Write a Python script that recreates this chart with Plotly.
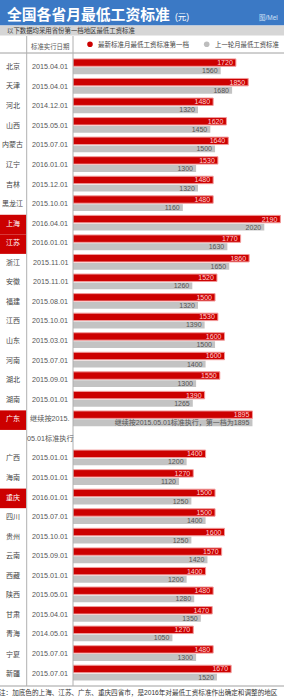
import plotly.graph_objects as go

# ---------------- data ----------------
provinces = ["北京", "天津", "河北", "山西", "内蒙古", "辽宁", "吉林", "黑龙江", "上海", "江苏",
             "浙江", "安徽", "福建", "江西", "山东", "河南", "湖北", "湖南", "广东", "广西",
             "海南", "重庆", "四川", "贵州", "云南", "西藏", "陕西", "甘肃", "青海", "宁夏", "新疆"]
dates = ["2015.04.01", "2015.04.01", "2014.12.01", "2015.05.01", "2015.07.01", "2016.01.01",
         "2015.12.01", "2015.10.01", "2016.04.01", "2016.01.01", "2015.11.01", "2015.11.01",
         "2015.08.01", "2015.10.01", "2015.03.01", "2015.07.01", "2015.09.01", "2015.01.01",
         "继续按2015.<br>05.01标准执行", "2015.01.01", "2015.01.01", "2016.01.01", "2015.07.01",
         "2015.10.01", "2015.09.01", "2015.01.01", "2015.05.01", "2015.04.01", "2014.05.01",
         "2015.07.01", "2015.07.01"]
new_std = [1720, 1850, 1480, 1620, 1640, 1530, 1480, 1480, 2190, 1770, 1860, 1520, 1500, 1530,
           1600, 1600, 1550, 1390, 1895, 1400, 1270, 1500, 1500, 1600, 1570, 1400, 1480, 1470,
           1270, 1480, 1670]
old_std = [1560, 1680, 1320, 1450, 1500, 1300, 1320, 1160, 2020, 1630, 1650, 1260, 1320, 1390,
           1500, 1400, 1300, 1265, 1895, 1200, 1120, 1250, 1400, 1250, 1420, 1200, 1280, 1350,
           1050, 1300, 1520]
highlighted = ["上海", "江苏", "广东", "重庆"]
notes = {"广东": "继续按2015.05.01标准执行，第一档为1895"}

title = "全国各省月最低工资标准"
unit = "(元)"
credit = "图/Mel"
subtitle = "以下数据均采用省份第一档地区最低工资标准"
date_header = "标准实行日期"
legend_new = "最新标准月最低工资标准第一档"
legend_old = "上一轮月最低工资标准"
footnote = "注：加底色的上海、江苏、广东、重庆四省市，是2016年对最低工资标准作出确定和调整的地区"

# ---------------- layout geometry ----------------
W, H = 284, 700
L, T, B = 73, 53, 14
ROW = 19.56
FIRST = 66.7
PX_PER_YUAN = 0.0947

FONT = "Liberation Sans, Arial, Noto Sans CJK SC, sans-serif"
RED = "#cc0000"
GRAY = "#c3c3c3"

# row positions (multi-line dates take extra rows)
pos = []
k = 0
for d in dates:
    pos.append(k)
    k += len(d.split("<br>"))

r0 = -(FIRST - T) / ROW
r1 = r0 + (H - T - B) / ROW


def px(p):
    return (p - L) / (W - L)


def py(p):
    return (H - B - p) / (H - T - B)


old_labels = [notes.get(p, str(v)) for p, v in zip(provinces, old_std)]

fig = go.Figure()
fig.add_trace(go.Bar(
    y=pos, x=new_std, orientation="h", width=0.38, offset=-0.40,
    marker=dict(color=RED, line=dict(color="#f29a9a", width=1)),
    text=[str(v) for v in new_std], textposition="inside", insidetextanchor="end",
    textangle=0, constraintext="none",
    textfont=dict(color="#ffd2d2", size=7, family=FONT), hoverinfo="skip"))
fig.add_trace(go.Bar(
    y=pos, x=old_std, orientation="h", width=0.35, offset=0.03,
    marker=dict(color=GRAY, line=dict(width=0)),
    text=old_labels, textposition="inside", insidetextanchor="end",
    textangle=0, constraintext="none",
    textfont=dict(color="#555555", size=7, family=FONT), hoverinfo="skip"))

shapes = []
ann = []

# title bar and grey band
shapes.append(dict(type="rect", xref="paper", yref="paper", x0=px(0), x1=px(W), y0=py(25.5), y1=py(0),
                   fillcolor="#3b79c5", line=dict(width=0), layer="below"))
shapes.append(dict(type="rect", xref="paper", yref="paper", x0=px(0), x1=px(W), y0=py(35.5), y1=py(25.5),
                   fillcolor="#d6d6d6", line=dict(width=0), layer="below"))
# lines
for yy in (T, H - B):
    shapes.append(dict(type="line", xref="paper", yref="paper", x0=px(0), x1=px(W), y0=py(yy), y1=py(yy),
                       line=dict(color="#a0a0a0", width=1)))
for xx in (26.7, 73):
    shapes.append(dict(type="line", xref="paper", yref="paper", x0=px(xx), x1=px(xx), y0=py(36), y1=py(H - B),
                       line=dict(color="#b0b0b0", width=1)))
# highlight boxes
for p, yv in zip(provinces, pos):
    if p in highlighted:
        shapes.append(dict(type="rect", xref="paper", yref="y", x0=px(0), x1=px(26.2),
                           y0=yv - 0.43, y1=yv + 0.57, fillcolor=RED, line=dict(width=0), layer="below"))
# legend dots
for cx, col in ((90, RED), (206.7, "#bdbdbd")):
    shapes.append(dict(type="circle", xref="paper", yref="paper", x0=px(cx - 2.8), x1=px(cx + 2.8),
                       y0=py(44.3 + 2.8), y1=py(44.3 - 2.8), fillcolor=col, line=dict(width=0)))

def text(x, y, s, size, color, xanchor="left", yref="paper", bold=False):
    ann.append(dict(x=x, y=y, xref="paper", yref=yref, text=("<b>%s</b>" % s) if bold else s,
                    showarrow=False, xanchor=xanchor, yanchor="middle",
                    font=dict(size=size, color=color, family=FONT)))

text(px(5), py(14.5), title, 14.8, "white", bold=True)
text(px(173), py(17), unit, 8.5, "white")
text(px(257), py(17.5), credit, 6.5, "#cfe0f5")
text(px(5), py(30.3), subtitle, 6.4, "#333333")
text(px(50), py(46.7), date_header, 6.4, "#555555", xanchor="center")
text(px(95.5), py(44.3), legend_new, 6.5, "#444444")
text(px(212.5), py(44.3), legend_old, 6.4, "#444444")

for p, d, yv in zip(provinces, dates, pos):
    text(px(12.8), yv, p, 7, "white" if p in highlighted else "#444444", xanchor="center", yref="y")
    for j, line in enumerate(d.split("<br>")):
        text(px(50.3), yv + j, line, 7.2, "#555555", xanchor="center", yref="y")

text(px(-3), py(692.5), footnote, 6.6, "#333333")

fig.update_layout(
    width=W, height=H, margin=dict(l=L, r=0, t=T, b=B, pad=0),
    paper_bgcolor="white", plot_bgcolor="white", showlegend=False,
    barmode="overlay", shapes=shapes, annotations=ann,
    xaxis=dict(range=[0, (W - L) / PX_PER_YUAN], visible=False, fixedrange=True),
    yaxis=dict(range=[r1, r0], visible=False, fixedrange=True),
    font=dict(family=FONT),
)
fig.write_html("out.html", config={"displayModeBar": False})
